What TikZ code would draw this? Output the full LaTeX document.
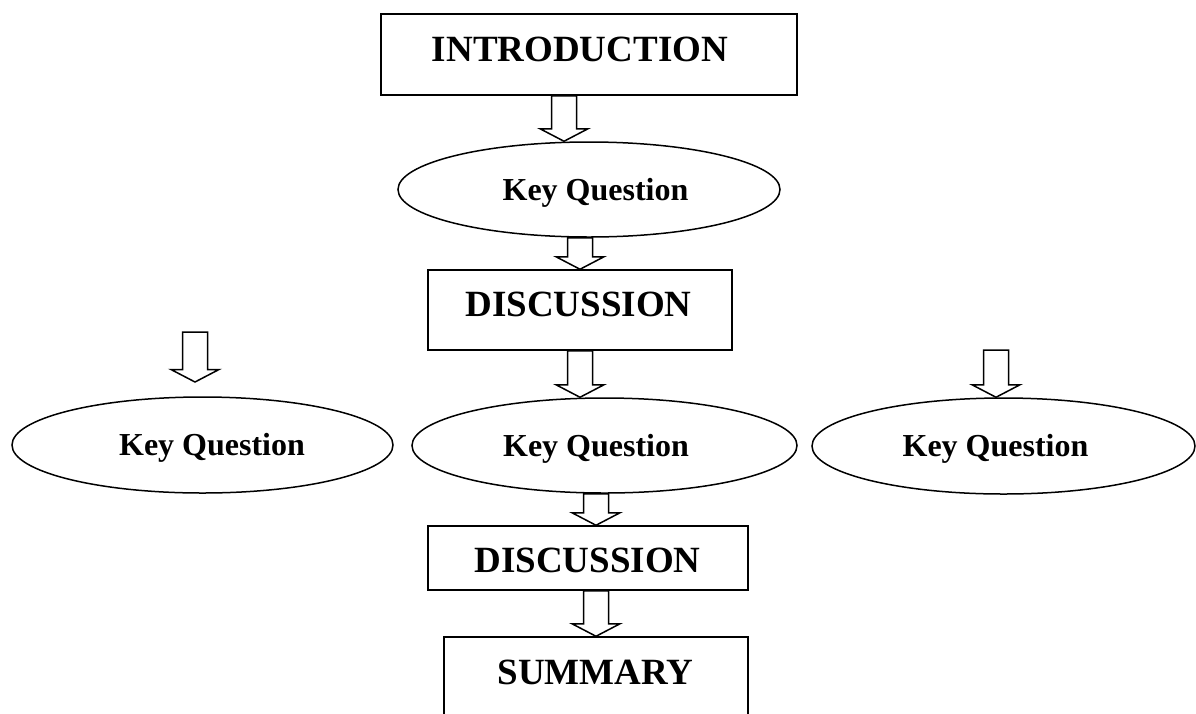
\documentclass[tikz,border=0pt]{standalone}
\usepackage{fontspec}
\setmainfont{Liberation Serif}
\usetikzlibrary{shapes.geometric,calc}

\newcommand{\hollowarrow}[2]{%
	\draw let \p1=(#1), \p2=(#2) in
		(\x1-12.5pt,\y1) -- (\x1-12.5pt,\y2+12.5pt) -- (\x1-24pt,\y2+12.5pt) -- (\x1,\y2)
		-- (\x1+24pt,\y2+12.5pt) -- (\x1+12.5pt,\y2+12.5pt) -- (\x1+12.5pt,\y1) -- cycle;}

\begin{document}
\begin{tikzpicture}[x=1pt, y=-1pt, line width=1.5pt, line join=miter,
		box/.style={rectangle, draw, inner sep=0pt},
		question/.style={ellipse, draw, inner sep=0pt},
		bigtext/.style={font=\fontsize{37}{44}\selectfont\bfseries, inner sep=0pt, text height=24.5pt, text depth=0pt},
		smalltext/.style={font=\fontsize{32}{38}\selectfont\bfseries, inner sep=0pt, text height=21.2pt, text depth=0pt}]
		\useasboundingbox (0,0) rectangle (1196,713);
		\clip (0,0) rectangle (1196,713);

		\node[box, minimum width=416pt, minimum height=81pt] (A) at (589, 54.5) {};
		\node[question, minimum width=382pt, minimum height=95pt] (B) at (589, 189.5) {};
		\node[box, minimum width=304pt, minimum height=80pt] (C) at (580, 310) {};
		\node[question, minimum width=381pt, minimum height=96pt] (D) at (202.5, 445) {};
		\node[question, minimum width=385pt, minimum height=95pt] (E) at (604.5, 445.5) {};
		\node[question, minimum width=383pt, minimum height=96pt] (F) at (1003.5, 446) {};
		\node[box, minimum width=320pt, minimum height=64pt] (G) at (588, 558) {};
		\node[box, minimum width=304pt, minimum height=88pt] (H) at (596, 681) {};

		\coordinate (DL) at (195, 332);
		\coordinate (DT) at (195, 382);
		\coordinate (FL) at (996, 350);

		\hollowarrow{A.south -| 564,0}{B.north -| 564,0}
		\hollowarrow{B.south -| 580,0}{C.north -| 580,0}
		\hollowarrow{C.south -| 580,0}{E.north -| 580,0}
		\hollowarrow{DL}{DT}
		\hollowarrow{FL}{F.north -| 996,0}
		\hollowarrow{E.south -| 596,0}{G.north -| 596,0}
		\hollowarrow{G.south -| 596,0}{H.north -| 596,0}

		% texts in the shapes
		\node[bigtext] (tA) at (580, 49) {INTRODUCTION};
		\node[smalltext] (tB) at (595.5, 190) {Key Question};
		\node[bigtext] (tC) at (578.5, 304.5) {DISCUSSION};
		\node[smalltext] (tD) at (212, 445) {Key Question};
		\node[smalltext] (tE) at (596, 445.5) {Key Question};
		\node[smalltext] (tF) at (995.5, 445.5) {Key Question};
		\node[bigtext] (tG) at (587.5, 560) {DISCUSSION};
		\node[bigtext] (tH) at (595.5, 672.5) {SUMMARY};

	\end{tikzpicture}
\end{document}
